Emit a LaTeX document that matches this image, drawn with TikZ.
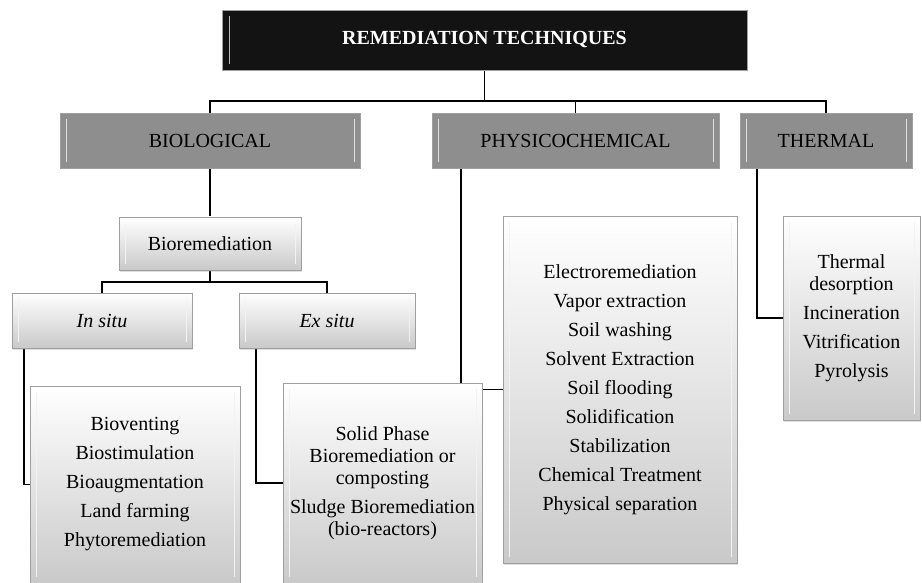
\documentclass[tikz,border=0pt]{standalone}
\usepackage{fontspec}
\setmainfont{Liberation Serif}
\usetikzlibrary{positioning, shadows, backgrounds}
\definecolor{headblack}{HTML}{131313}
\definecolor{groupgray}{HTML}{8E8E8E}

\begin{document}
\begin{tikzpicture}[x=1pt, y=-1pt, font=\fontsize{20}{22}\selectfont,
    bevel/.style={path picture={
      \draw[#1, line width=1pt]
        ([shift={(6pt,6pt)}]path picture bounding box.south west) --
        ([shift={(6pt,-6pt)}]path picture bounding box.north west);
      \draw[#1, line width=1pt]
        ([shift={(-6pt,6pt)}]path picture bounding box.south east) --
        ([shift={(-6pt,-6pt)}]path picture bounding box.north east);}},
    box/.style={rectangle, draw=gray!75, thin, align=center, inner sep=2pt,
      drop shadow={opacity=0.25, shadow xshift=1pt, shadow yshift=-1.5pt}},
    headbox/.style={box, fill=headblack, text=white, font=\fontsize{20}{22}\selectfont\bfseries,
      path picture={\draw[gray!55, line width=1pt]
        ([shift={(7pt,6pt)}]path picture bounding box.south west) --
        ([shift={(7pt,-6pt)}]path picture bounding box.north west);}},
    groupbox/.style={box, fill=groupgray, bevel=gray!25},
    leafbox/.style={box, top color=white, bottom color=gray!42, bevel=white!90!gray},
    conn/.style={draw=black, line width=1.6pt},
  ]
    \useasboundingbox (0,0) rectangle (922,583);

    \node[headbox, minimum width=525pt, minimum height=60pt] (top) at (484.5,40) {REMEDIATION TECHNIQUES};

    \node[groupbox, minimum width=300pt, minimum height=55pt] (bio)   at (210,140.5)   {BIOLOGICAL};
    \node[groupbox, minimum width=287pt, minimum height=55pt] (phys)  at (575.5,140.5) {PHYSICOCHEMICAL};
    \node[groupbox, minimum width=172pt, minimum height=55pt] (therm) at (826,140.5)   {THERMAL};

    \node[leafbox, minimum width=182pt, minimum height=53pt] (biorem) at (210,243.5) {Bioremediation};
    \node[leafbox, minimum width=180pt, minimum height=55pt] (insitu) at (102,320.5) {\itshape In situ};
    \node[leafbox, minimum width=176pt, minimum height=55pt] (exsitu) at (327,320.5) {\itshape Ex situ};

    \node[leafbox, minimum width=210pt, minimum height=197pt] (inlist) at (135,484.5)
      {Bioventing\\[7pt]Biostimulation\\[7pt]Bioaugmentation\\[7pt]Land farming\\[7pt]Phytoremediation};
    \node[leafbox, minimum width=199pt, minimum height=200pt] (exlist) at (382.5,483)
      {Solid Phase\\Bioremediation or\\composting\\[7pt]Sludge Bioremediation\\(bio-reactors)};
    \node[leafbox, minimum width=234pt, minimum height=347pt] (physlist) at (620,389.5)
      {Electroremediation\\[7pt]Vapor extraction\\[7pt]Soil washing\\[7pt]Solvent Extraction\\[7pt]Soil flooding\\[7pt]Solidification\\[7pt]Stabilization\\[7pt]Chemical Treatment\\[7pt]Physical separation};
    \node[leafbox, minimum width=137pt, minimum height=204pt] (thermlist) at (851.5,318)
      {Thermal\\desorption\\[7pt]Incineration\\[7pt]Vitrification\\[7pt]Pyrolysis};

    % connectors behind the boxes
    \begin{scope}[on background layer]
      \coordinate (busA) at (0,101);
      \coordinate (busB) at (0,282);
      \draw[conn] (top.south) -- (top.south |- busA);
      \draw[conn] (bio.north) |- (busA -| therm.north) -- (therm.north);
      \draw[conn] (phys.north) -- (phys.north |- busA);
      \draw[conn] (bio.south) -- (biorem.north);
      \draw[conn] (biorem.south) -- (biorem.south |- busB);
      \draw[conn] (insitu.north) |- (busB -| exsitu.north) -- (exsitu.north);
      \draw[conn] ([xshift=12pt]insitu.south west) |- (inlist.west);
      \draw[conn] ([xshift=17pt]exsitu.south west) |- (exlist.west);
      \draw[conn] ([xshift=29pt]phys.south west) |- (physlist.west);
      \draw[conn] ([xshift=17pt]therm.south west) |- (thermlist.west);
    \end{scope}
  \end{tikzpicture}
\end{document}
